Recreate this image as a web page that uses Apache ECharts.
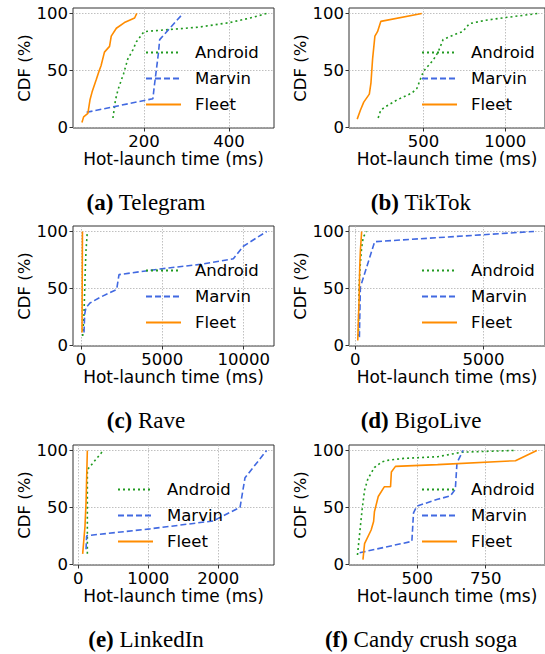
<!DOCTYPE html>
<html>
<head>
<meta charset="utf-8">
<title>Hot-launch time CDF</title>
<style>
body{margin:0;padding:0;background:#fff;}
#main{width:545px;height:654px;}
</style>
</head>
<body>
<div id="main"></div>
<script src="https://cdn.jsdelivr.net/npm/echarts@6/dist/echarts.min.js"></script>
<script>
// CDF points: [hot-launch time (ms), CDF (%)]
var telegramAndroid=[[127,8],[133,24],[139,33],[152,47],[162,60],[174,68],[182,75],[200,84],[330,88],[402,92],[450,96],[489,100]];
var telegramMarvin=[[65,13],[221,25],[224,35],[229,50],[234,65],[237,77],[261,87],[292,100]];
var telegramFleet=[[54,4],[58,9],[68,12],[73,24],[78,31],[88,42],[95,50],[99,54],[107,66],[119,71],[123,80],[135,87],[154,92],[178,96],[183,100]];

var tiktokAndroid=[[224,8],[240,15],[270,18],[340,24],[430,30],[460,34],[500,49],[560,59],[590,66],[620,77],[700,82],[740,84],[780,91],[880,94],[980,96],[1200,100]];
var tiktokMarvin=[];
var tiktokFleet=[[96,7],[116,15],[136,22],[170,29],[180,39],[190,60],[204,80],[220,84],[240,93],[490,100]];

var raveAndroid=[[102,8],[184,27],[266,68],[307,83],[389,100]];
var raveMarvin=[[184,11],[225,27],[307,33],[553,37],[1168,42],[2192,49],[2336,62],[4856,67],[7315,71],[9364,76],[9979,87],[11413,100]];
var raveFleet=[[65,11],[70,40],[80,70],[90,100]];

var bigoAndroid=[[127,8],[152,51],[190,68],[253,86],[316,95],[443,100]];
var bigoMarvin=[[165,7],[203,51],[760,91],[6963,100]];
var bigoFleet=[[101,4],[127,24],[152,39],[177,68],[203,83],[253,100]];

var linkedinAndroid=[[129,9],[129,83],[357,100]];
var linkedinMarvin=[[110,13],[119,25],[1024,31],[1929,38],[2310,50],[2381,76],[2690,100]];
var linkedinFleet=[[62,9],[95,33],[110,54],[129,100]];

var candyAndroid=[[281,8],[289,27],[298,48],[307,65],[319,75],[343,85],[370,90],[396,91.5],[450,93],[574,94.5],[663,98.5],[853,100]];
var candyMarvin=[[289,10],[480,20],[486,45],[498,51],[574,57],[621,60],[639,66],[645,89],[667,100]];
var candyFleet=[[301,4],[307,18],[331,30],[340,37.5],[343,46],[357,59.5],[379,68],[402,68],[405,81],[420,86],[574,87.5],[859,91],[937,100]];

var apps=['Telegram','TikTok','Rave','BigoLive','LinkedIn','Candy crush soga'];
var letters=['(a)','(b)','(c)','(d)','(e)','(f)'];
var methods=['Android','Marvin','Fleet'];
var panelData=[
  [telegramAndroid,telegramMarvin,telegramFleet],
  [tiktokAndroid,tiktokMarvin,tiktokFleet],
  [raveAndroid,raveMarvin,raveFleet],
  [bigoAndroid,bigoMarvin,bigoFleet],
  [linkedinAndroid,linkedinMarvin,linkedinFleet],
  [candyAndroid,candyMarvin,candyFleet]
];
var xTicks=[[200,400],[500,1000],[0,5000,10000],[0,5000],[0,1000,2000],[500,750]];
var xMin=[33,46,-492,-240,-76,250];
var xMax=[506,1242,11862,7393,2795,967];
var yTicks=[0,50,100];

// layout
var F='DejaVu Sans';
var colors={Android:'#209a20',Marvin:'#4169e1',Fleet:'#ff8c00'};
var dash={Android:[2,3],Marvin:[6,3],Fleet:'solid'};
var rowTop=[8,226,445];
var capY=[202,420.5,639];
var legLeft=[145,421,145,421,117,421];
var plain=function(v){return String(v);};

var grids=[],xAxes=[],yAxes=[],series=[],legends=[],graphics=[];
for(var i=0;i<6;i++){
  var col=i%2,row=Math.floor(i/2);
  grids.push({
    left:col==0?73:349,
    right:col==0?271:-5,
    top:rowTop[row],
    height:120,
    show:true,
    borderColor:'#333',
    borderWidth:1,
    backgroundColor:'transparent'
  });
  xAxes.push({
    type:'value',gridIndex:i,min:xMin[i],max:xMax[i],
    name:'Hot-launch time (ms)',nameLocation:'middle',nameGap:20,
    nameTextStyle:{fontFamily:F,fontSize:17,color:'#000'},
    axisLine:{show:false,onZero:false},
    axisTick:{show:true,length:3.5,lineStyle:{color:'#333'},customValues:xTicks[i]},
    axisLabel:{customValues:xTicks[i],formatter:plain,margin:5,fontFamily:F,fontSize:16.5,color:'#000'},
    splitLine:{show:true,lineStyle:{color:'#b0b0b0',width:0.8,type:[1.5,1.5]}}
  });
  yAxes.push({
    type:'value',gridIndex:i,min:-0.8,max:104.8,
    name:'CDF (%)',nameLocation:'middle',nameGap:40,
    nameTextStyle:{fontFamily:F,fontSize:16.5,color:'#000'},
    axisLine:{show:false,onZero:false},
    axisTick:{show:true,length:3.5,lineStyle:{color:'#333'},customValues:yTicks},
    axisLabel:{customValues:yTicks,formatter:plain,margin:5,fontFamily:F,fontSize:16.5,color:'#000'},
    splitLine:{show:true,lineStyle:{color:'#b0b0b0',width:0.8,type:[1.5,1.5]}}
  });
  for(var m=0;m<3;m++){
    var name=methods[m];
    series.push({
      name:name,type:'line',xAxisIndex:i,yAxisIndex:i,
      data:panelData[i][m],symbol:'none',animation:false,
      lineStyle:{color:colors[name],width:1.6,type:dash[name],cap:'butt'},
      itemStyle:{color:colors[name]},
      z:2+m
    });
  }
  legends.push({
    data:methods,orient:'vertical',left:legLeft[i],top:rowTop[row]+36,
    padding:0,itemWidth:35,itemHeight:16,itemGap:9,selectedMode:false,
    itemStyle:{opacity:0},
    textStyle:{fontFamily:F,fontSize:16.5,color:'#000',padding:[0,0,0,9]}
  });
  graphics.push({
    type:'text',x:col==0?146:421,y:capY[row],
    style:{
      text:'{b|'+letters[i]+'} '+apps[i],
      fontFamily:'Liberation Serif',fontSize:23,fill:'#000',
      align:'center',verticalAlign:'middle',
      rich:{b:{fontFamily:'Liberation Serif',fontSize:23,fontWeight:'bold'}}
    }
  });
}

var myChart=echarts.init(document.getElementById('main'),null,{renderer:'svg'});
myChart.setOption({
  animation:false,
  grid:grids,xAxis:xAxes,yAxis:yAxes,
  legend:legends,
  series:series,
  graphic:graphics
});
</script>
</body>
</html>
